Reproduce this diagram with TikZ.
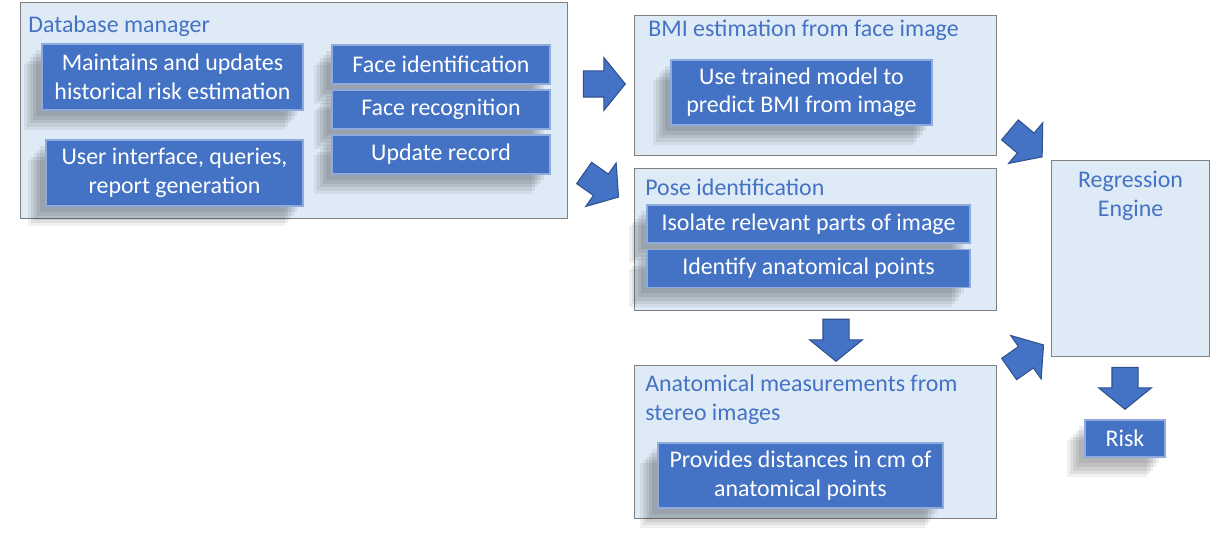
\documentclass[tikz,border=0pt]{standalone}
\usepackage{fontspec}
\setmainfont{Carlito}
\usepackage{tikz}
\usetikzlibrary{positioning,shapes.arrows,shadows}
\definecolor{boxfill}{RGB}{222,235,247}
\definecolor{boxline}{RGB}{128,128,128}
\definecolor{titleblue}{RGB}{68,114,196}
\definecolor{taskfill}{RGB}{68,114,196}
\definecolor{taskline}{RGB}{143,170,220}
\definecolor{arrowline}{RGB}{47,82,143}

\begin{document}
\begin{tikzpicture}[node distance=0.09cm,font=\fontsize{13.6}{16.2}\selectfont,
  group/.style={rectangle,draw=boxline,line width=0.6pt,fill=boxfill,anchor=north west,inner sep=0pt},
  grouptitle/.style={inner sep=0pt,text=titleblue,align=left},
  softshadow/.style={general shadow={shadow xshift=-0.12cm,shadow yshift=-0.12cm,fill=black,opacity=0.07},
    general shadow={shadow xshift=-0.18cm,shadow yshift=-0.2cm,fill=black,opacity=0.07},
    general shadow={shadow xshift=-0.24cm,shadow yshift=-0.27cm,fill=black,opacity=0.07},
    general shadow={shadow xshift=-0.3cm,shadow yshift=-0.34cm,fill=black,opacity=0.07},
    general shadow={shadow xshift=-0.36cm,shadow yshift=-0.4cm,fill=black,opacity=0.06}},
  task/.style={rectangle,draw=taskline,line width=0.8pt,fill=taskfill,text=white,align=center,inner sep=0pt,softshadow},
  bigarrow/.style={single arrow,draw=arrowline,line width=0.6pt,fill=taskfill,inner xsep=0pt,inner ysep=0.25cm,
    single arrow head extend=0.27cm,single arrow tip angle=102,minimum height=0.84cm}]
\useasboundingbox (0,0) rectangle (24.2,-11.06);

\node (db) [group,minimum width=10.94cm,minimum height=4.32cm] at (0.40,-0.04) {};
\node (dbtitle) [grouptitle,below right=0.27cm and 0.16cm of db.north west] {Database manager};
\node (maint) [task,minimum width=5.22cm,minimum height=1.32cm] at (3.45,-1.54) {Maintains and updates\\historical risk estimation};
\node (ui) [task,minimum width=5.14cm,minimum height=1.32cm] at (3.49,-3.46) {User interface, queries,\\report generation};
\node (faceid) [task,minimum width=4.36cm,minimum height=0.78cm] at (8.82,-1.29) {Face identification};
\node (facerec) [task,minimum width=4.36cm,minimum height=0.78cm,below=of faceid] {Face recognition};
\node (update) [task,minimum width=4.36cm,minimum height=0.78cm,below=of facerec] {Update record};

\node (bmi) [group,minimum width=7.24cm,minimum height=2.80cm] at (12.68,-0.30) {};
\node (bmititle) [grouptitle,below right=0.10cm and 0.28cm of bmi.north west] {BMI estimation from face image};
\node (model) [task,minimum width=5.22cm,minimum height=1.30cm] at (16.03,-1.85) {Use trained model to\\predict BMI from image};

\node (pose) [group,minimum width=7.24cm,minimum height=2.84cm] at (12.68,-3.36) {};
\node (posetitle) [grouptitle,below right=0.21cm and 0.22cm of pose.north west] {Pose identification};
\node (isolate) [task,minimum width=6.46cm,minimum height=0.76cm] at (16.17,-4.48) {Isolate relevant parts of image};
\node (points) [task,minimum width=6.46cm,minimum height=0.76cm,below=0.1cm of isolate] {Identify anatomical points};

\node (anat) [group,minimum width=7.24cm,minimum height=3.06cm] at (12.68,-7.30) {};
\node (anattitle) [grouptitle,below right=0.20cm and 0.22cm of anat.north west] {Anatomical measurements from\\stereo images};
\node (dist) [task,minimum width=5.70cm,minimum height=1.30cm] at (16.01,-9.51) {Provides distances in cm of\\anatomical points};

\node (reg) [group,minimum width=3.16cm,minimum height=3.92cm] at (21.02,-3.20) {};
\node (regtitle) [grouptitle,align=center,below=0.22cm of reg.north] {Regression\\Engine};

\node (risk) [task,minimum width=1.60cm,minimum height=0.74cm] at (22.50,-8.77) {Risk};

\node (db-bmi) [bigarrow] at (11.98,-1.68) {};
\node (db-pose) [bigarrow,rotate=-35] at (11.94,-3.64) {};
\node (pose-anat) [bigarrow,rotate=-90] at (16.72,-6.70) {};
\node (bmi-reg) [bigarrow,rotate=-40] at (20.44,-2.80) {};
\node (anat-reg) [bigarrow,rotate=35] at (20.44,-7.20) {};
\node (reg-risk) [bigarrow,rotate=-90] at (22.50,-7.66) {};
\end{tikzpicture}
\end{document}
